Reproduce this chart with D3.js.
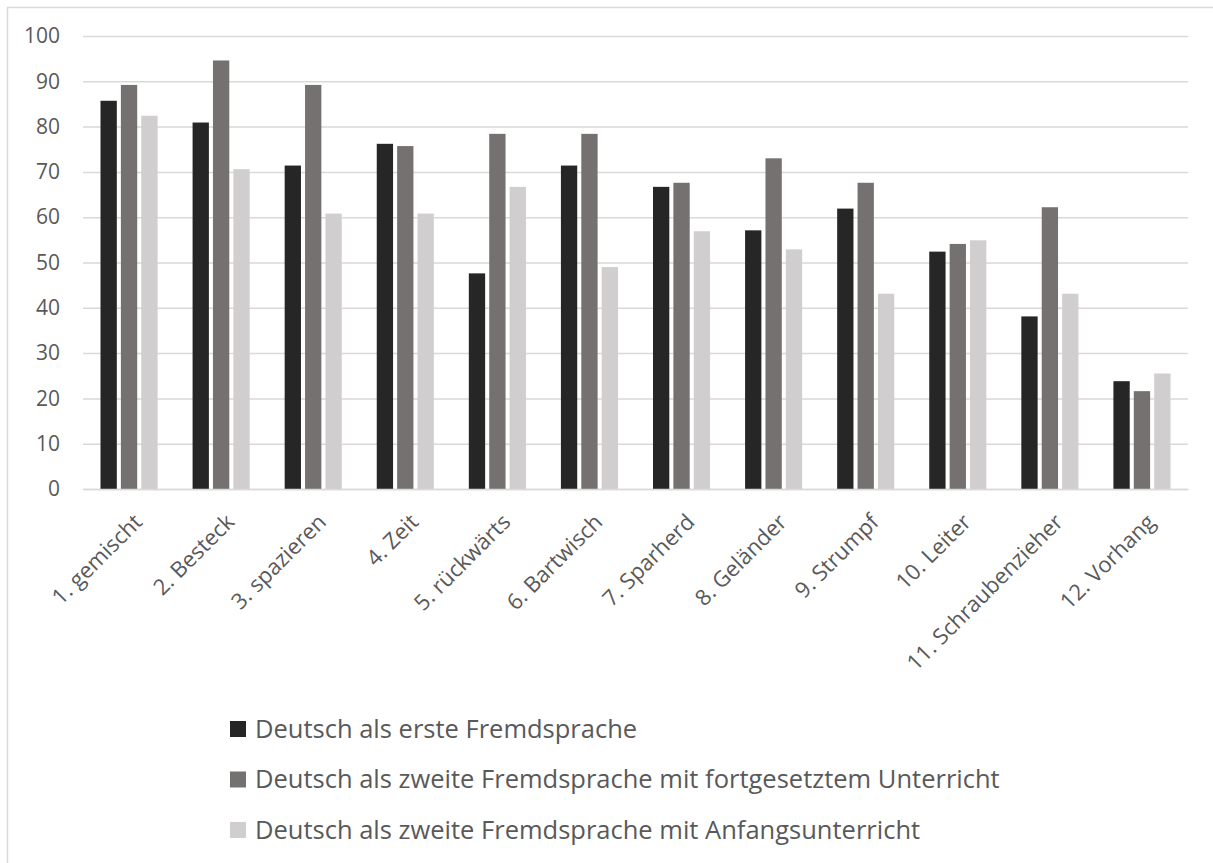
<!DOCTYPE html>
<html><head><meta charset="utf-8">
<script src="https://cdn.jsdelivr.net/npm/d3@7"></script>
<style>body{margin:0;background:#fff}svg{display:block}text{font-family:"Open Sans",sans-serif;fill:#595959}</style>
</head><body><svg id="c" width="1213" height="863"></svg>
<script>
const categories = ["1. gemischt","2. Besteck","3. spazieren","4. Zeit","5. rückwärts","6. Bartwisch","7. Sparherd","8. Geländer","9. Strumpf","10. Leiter","11. Schraubenzieher","12. Vorhang"];
const seriesNames = ["Deutsch als erste Fremdsprache","Deutsch als zweite Fremdsprache mit fortgesetztem Unterricht","Deutsch als zweite Fremdsprache mit Anfangsunterricht"];
const erste = [85.7,80.9,71.4,76.2,47.6,71.4,66.7,57.1,61.9,52.4,38.1,23.8];
const fortgesetzt = [89.2,94.6,89.2,75.7,78.4,78.4,67.6,73.0,67.6,54.1,62.2,21.6];
const anfang = [82.4,70.6,60.8,60.8,66.7,49.0,56.9,52.9,43.1,54.9,43.1,25.5];
const yTicks = [0,10,20,30,40,50,60,70,80,90,100];
const colors = ["#262626","#767171","#d0cece"];

const svg = d3.select("#c");
const values = [erste, fortgesetzt, anfang];
const L=83, R=1188, T=36, B=489;

svg.append("rect").attr("x",7.5).attr("y",7.5).attr("width",1220).attr("height",880)
  .attr("fill","none").attr("stroke","#d9d9d9").attr("stroke-width",1.5);

const y = d3.scaleLinear().domain([0,100]).range([B,T]);
const x0 = d3.scaleBand().domain(categories).range([L,R]).paddingInner(0.38).paddingOuter(0.19);
const x1 = d3.scaleBand().domain(d3.range(3)).range([0,x0.bandwidth()]).paddingInner(0.2);

const yAxis = d3.axisLeft(y).tickValues(yTicks).tickSize(-(R-L)).tickPadding(23);
const gy = svg.append("g").attr("transform",`translate(${L},0)`).call(yAxis);
gy.select(".domain").remove();
gy.selectAll(".tick line").attr("stroke","#d9d9d9").attr("stroke-width",1.5);
gy.selectAll(".tick text").style("font-size","21px").attr("fill","#595959");

const groups = svg.append("g").selectAll("g").data(categories).join("g")
  .attr("transform",c=>`translate(${x0(c)},0)`);
groups.selectAll("rect").data((c,i)=>values.map((v,s)=>({s,v:v[i]}))).join("rect")
  .attr("x",d=>x1(d.s)).attr("width",x1.bandwidth())
  .attr("y",d=>y(d.v)).attr("height",d=>B-y(d.v))
  .attr("fill",d=>colors[d.s]);

const xAxis = d3.axisBottom(x0).tickSize(0).tickPadding(0);
const gx = svg.append("g").attr("transform",`translate(0,${B})`).call(xAxis);
gx.select(".domain").attr("stroke","#d9d9d9").attr("stroke-width",1.5);
gx.selectAll(".tick text").style("font-size","22px").attr("fill","#595959")
  .attr("text-anchor","end").attr("dy","0.35em").attr("y",0).attr("x",0)
  .attr("transform","translate(9,29) rotate(-45)");

const leg = svg.append("g").selectAll("g").data(seriesNames).join("g")
  .attr("transform",(d,i)=>`translate(230,${729+i*50.5})`);
leg.append("rect").attr("x",0).attr("y",-8).attr("width",16).attr("height",16).attr("fill",(d,i)=>colors[i]);
leg.append("text").attr("x",25).attr("y",0).attr("dy","0.35em").style("font-size","25.5px").text(d=>d);
</script></body></html>
